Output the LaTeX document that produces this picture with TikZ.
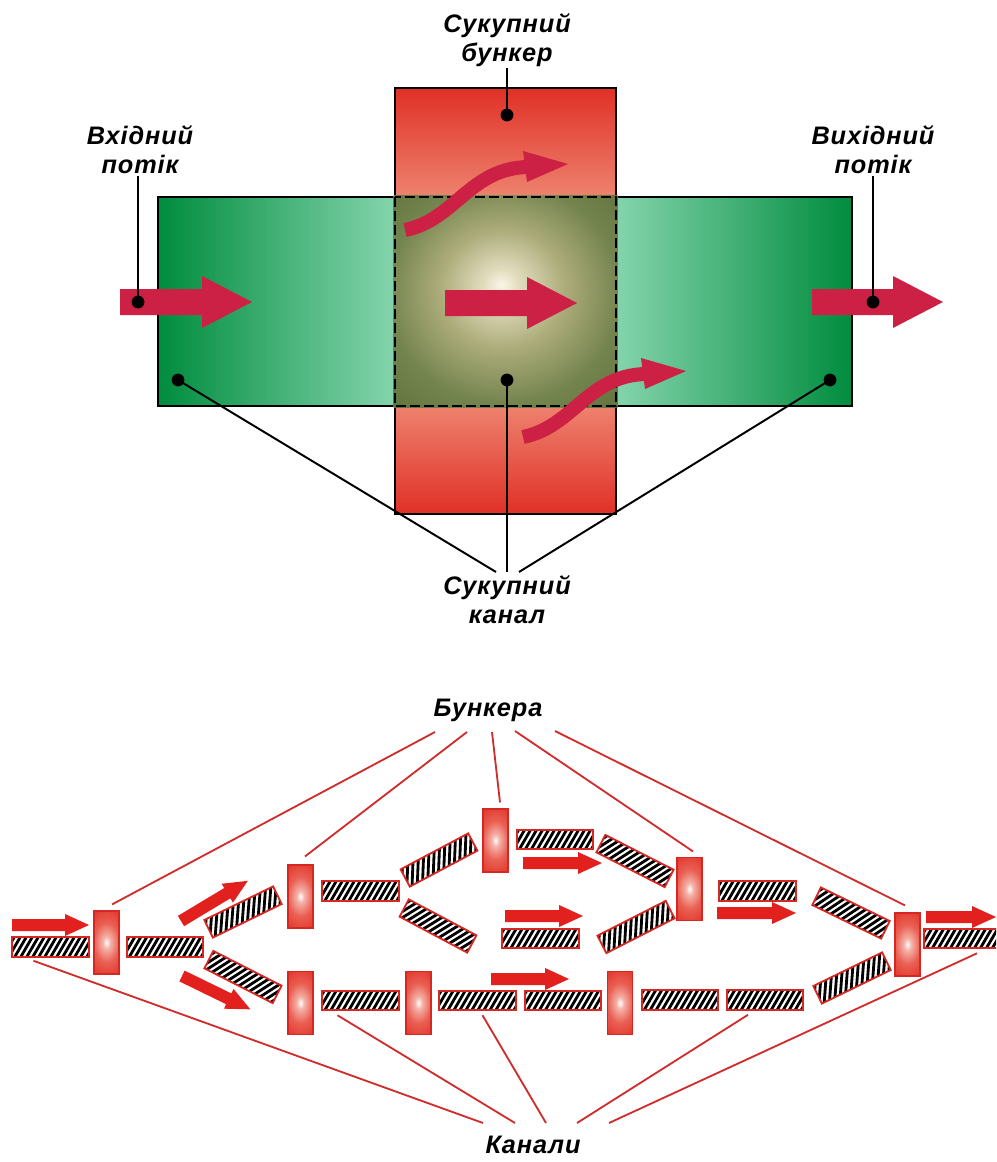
\documentclass[tikz,border=0pt]{standalone}
\usepackage{fontspec}
\setmainfont{Liberation Sans}
\newfontfamily\lblfont[LetterSpace=3.5]{Liberation Sans}
\usetikzlibrary{calc}

\definecolor{flowred}{RGB}{204,32,68}
\definecolor{pipered}{RGB}{226,32,30}
\definecolor{cellred}{RGB}{226,52,42}
\definecolor{cellpink}{RGB}{245,178,168}
\definecolor{cellmid}{RGB}{234,96,84}
\definecolor{celledge}{RGB}{214,40,34}
\definecolor{leadred}{RGB}{208,44,44}
\definecolor{hopedge}{RGB}{224,48,38}
\definecolor{hopmid}{RGB}{238,132,112}
\definecolor{chdark}{RGB}{0,140,62}
\definecolor{chlight}{RGB}{132,212,172}
\definecolor{mixcore}{RGB}{250,246,232}
\definecolor{mixglow}{RGB}{226,220,190}
\definecolor{mixmid}{RGB}{172,172,122}
\definecolor{mixedge}{RGB}{116,132,78}
\definecolor{mixcorner}{RGB}{98,116,62}

\pgfdeclareverticalshading{hoppershade}{100bp}{color(0bp)=(hopedge); color(25bp)=(hopedge); color(38bp)=(hopmid); color(62bp)=(hopmid); color(75bp)=(hopedge); color(100bp)=(hopedge)}
\pgfdeclarehorizontalshading{canalshade}{100bp}{color(0bp)=(chdark); color(25bp)=(chdark); color(42bp)=(chlight); color(58bp)=(chlight); color(75bp)=(chdark); color(100bp)=(chdark)}
\pgfdeclareradialshading{mixshade}{\pgfpoint{-1bp}{4bp}}{color(0bp)=(mixcore); color(4bp)=(mixglow); color(14bp)=(mixmid); color(26bp)=(mixedge); color(36bp)=(mixcorner); color(50bp)=(mixcorner)}
\pgfdeclareradialshading{cellglow}{\pgfpoint{0bp}{0bp}}{color(0bp)=(white); color(4bp)=(cellpink); color(13bp)=(cellmid); color(25bp)=(cellred); color(50bp)=(cellred)}

% hatched channel: name, x, y, angle
\newcommand{\channel}[4]{%
  \node[chan, rotate=#4] (#1) at (#2,#3) {};
  \begin{scope}[shift={(#2,#3)}, rotate=#4]
    \clip (-38,-9.5) rectangle (38,9.5);
    \foreach \n in {-8,...,8}
      \draw[stripe] (\n*6+7,-12) -- (\n*6-7,12);
  \end{scope}
  \draw[chanedge] (#1.north west) -- (#1.north east) -- (#1.south east) -- (#1.south west) -- cycle;
}
% small flow arrow: x, y, angle, length
\newcommand{\pipearrow}[4]{%
  \fill[pipe, shift={(#1,#2)}, rotate=#3] (0,-6) -- (#4-24,-6) -- (#4-24,-11) -- (#4,0) -- (#4-24,11) -- (#4-24,6) -- (0,6) -- cycle;}
% big flow arrow: tail x, tip x, y
\newcommand{\flowarrow}[3]{%
  \fill[flow] (#1,#3-13) -- (#2-50,#3-13) -- (#2-50,#3-26) -- (#2,#3) -- (#2-50,#3+26) -- (#2-50,#3+13) -- (#1,#3+13) -- cycle;}
% bent flow arrow, shifted
\newcommand{\bendarrow}[2]{%
  \begin{scope}[shift={(#1,#2)}]
    \draw[flowred, line width=0.35cm] (405,230) .. controls (455,220) and (470,168) .. (528,167);
    \fill[flow] (523,151) -- (568,164) -- (527,182) -- cycle;
  \end{scope}}

\begin{document}
\begin{tikzpicture}[
    x=0.025cm, y=-0.025cm,
    lbl/.style={font=\fontsize{18}{20.5}\selectfont\lblfont\bfseries\itshape, align=center, inner sep=1pt},
    dot/.style={circle, fill=black, inner sep=0, minimum size=0.32cm},
    lead/.style={line width=1.4pt},
    redlead/.style={draw=leadred, line width=1.3pt},
    flow/.style={fill=flowred},
    pipe/.style={fill=pipered},
    cell/.style={rectangle, minimum width=0.625cm, minimum height=1.575cm, inner sep=0, fill=cellred, draw=celledge, line width=0.8pt,
      path picture={\fill[shading=cellglow] (path picture bounding box.center) ellipse (0.6cm and 0.95cm);}},
    chan/.style={rectangle, minimum width=1.9cm, minimum height=0.475cm, inner sep=0, fill=white},
    chanedge/.style={draw=celledge, line width=1.3pt},
    stripe/.style={line width=2pt},
]
    \useasboundingbox (0,0) rectangle (996,1162);
    \clip (0,0) rectangle (996,1162);

    % top: hopper, channel and their overlap
    \path[shading=hoppershade, draw=black, line width=1.8pt] (395,88) rectangle (616,514);
    \path[shading=canalshade, draw=black, line width=1.8pt] (158,197) rectangle (852,406);
    \path[shading=mixshade] (393.5,195.5) rectangle (617.5,407.5);
    \draw[line width=1.8pt, dash pattern=on 0.25cm off 0.1cm] (395,197) rectangle (616,406);

    \flowarrow{120}{252}{302}
    \flowarrow{445}{577}{303}
    \flowarrow{812}{943}{302}
    \bendarrow{0}{0}
    \bendarrow{118}{207}

    \node[lbl] (lbunker) at (507,40) {Сукупний\\бункер};
    \node[lbl] (lin) at (140,150) {Вхідний\\потік};
    \node[lbl] (lout) at (873,150) {Вихідний\\потік};
    \node[lbl] (lchan) at (507,600) {Сукупний\\канал};

    \node[dot] (dbunk) at (507,115) {};
    \node[dot] (din) at (138,302) {};
    \node[dot] (dout) at (873,302) {};
    \node[dot] (dcl) at (178,380) {};
    \node[dot] (dcm) at (507,380) {};
    \node[dot] (dcr) at (830,380) {};
    \coordinate (cj1) at (496,572);
    \coordinate (cj2) at (507,572);
    \coordinate (cj3) at (519,572);

    \draw[lead] (lbunker) -- (dbunk.center);
    \draw[lead] (lin.south -| din) -- (din.center);
    \draw[lead] (lout.south -| dout) -- (dout.center);
    \draw[lead] (dcl.center) -- (cj1);
    \draw[lead] (dcm.center) -- (cj2);
    \draw[lead] (dcr.center) -- (cj3);

    % bottom: network of hoppers and channels
    \node[cell] (b1) at (106.5,942.5) {};
    \node[cell] (b2) at (300.5,896.5) {};
    \node[cell] (b3) at (300.5,1003) {};
    \node[cell] (b4) at (495.5,840.5) {};
    \node[cell] (b5) at (418.5,1003) {};
    \node[cell] (b6) at (689.5,889) {};
    \node[cell] (b7) at (620,1003) {};
    \node[cell] (b8) at (907.5,944.5) {};

    \channel{c0}{50.5}{947}{0}
    \channel{c1}{165}{947}{0}
    \channel{c2}{243}{912}{26}
    \channel{c3}{243}{977}{-27}
    \channel{c4}{360.5}{891}{0}
    \channel{c5}{439}{860}{28}
    \channel{c6}{438}{926}{-28}
    \channel{c7}{555}{839.5}{0}
    \channel{c8}{635}{861}{-27}
    \channel{c9}{636}{927}{27}
    \channel{c10}{540.5}{938.5}{0}
    \channel{c11}{360.5}{1000.5}{0}
    \channel{c12}{477.5}{1000.5}{0}
    \channel{c13}{563}{1000.5}{0}
    \channel{c14}{680}{1000}{0}
    \channel{c15}{765}{1000}{0}
    \channel{c16}{852}{978}{26}
    \channel{c17}{851}{913}{-26}
    \channel{c18}{757.5}{891}{0}
    \channel{c19}{962}{938.5}{0}

    \pipearrow{12}{925}{0}{77}
    \pipearrow{181}{921}{31}{78}
    \pipearrow{182}{976}{-26}{76}
    \pipearrow{523}{863}{0}{79}
    \pipearrow{505}{916}{0}{78}
    \pipearrow{491}{979}{0}{78}
    \pipearrow{717}{913}{0}{79}
    \pipearrow{926}{917}{0}{70}

    \node[lbl] (lcells) at (488,710) {Бункера};
    \node[lbl] (lcanals) at (533,1145) {Канали};

    \coordinate (s1) at (435,732);
    \coordinate (s2) at (467,732);
    \coordinate (s3) at (492,732);
    \coordinate (s4) at (515,731);
    \coordinate (s5) at (555,731);
    \draw[redlead] (s1) -- ($(b1.north)+(5.5,-6)$);
    \draw[redlead] (s2) -- ($(b2.north)+(4.5,-8)$);
    \draw[redlead] (s3) -- ($(b4.north)+(4.5,-6)$);
    \draw[redlead] (s4) -- ($(b6.north)+(3.5,-5.5)$);
    \draw[redlead] (s5) -- ($(b8.north)+(-2.5,-7)$);

    \coordinate (k1) at (483,1123);
    \coordinate (k2) at (515,1123);
    \coordinate (k3) at (546,1123);
    \coordinate (k4) at (577,1123);
    \coordinate (k5) at (609,1123);
    \draw[redlead] ($(c0.south)+(-17,4)$) -- (k1);
    \draw[redlead] ($(c11.south)+(-23,5)$) -- (k2);
    \draw[redlead] ($(c12.south)+(5,5)$) -- (k3);
    \draw[redlead] ($(c15.south)+(-17,5)$) -- (k4);
    \draw[redlead] ($(c19.south)+(15,5)$) -- (k5);
\end{tikzpicture}
\end{document}
